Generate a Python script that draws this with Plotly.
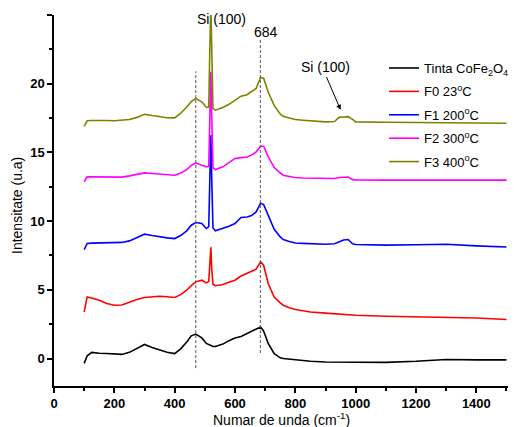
import plotly.graph_objects as go

# Raman shift (cm^-1) sample points
wavenumber = [100, 110, 125, 150, 175, 200, 225, 250, 275, 300, 325, 350, 375, 400, 420,
              440, 455, 470, 490, 505, 513, 517, 520, 523, 527, 535, 560, 580, 600, 620,
              640, 655, 670, 685, 695, 710, 730, 750, 760, 780, 800, 825, 850, 900, 930,
              945, 960, 975, 990, 1000, 1100, 1200, 1300, 1400, 1500]

tinta = [-0.35, 0.2, 0.45, 0.38, 0.37, 0.36, 0.3, 0.45, 0.75, 1.02, 0.8, 0.6, 0.45, 0.36, 0.7,
         1.2, 1.65, 1.78, 1.5, 1.1, 1.0, 0.95, 0.92, 0.9, 0.88, 0.88, 1.05, 1.3, 1.5, 1.6,
         1.8, 1.95, 2.1, 2.3, 2.0, 1.1, 0.35, 0.05, 0.0, -0.05, -0.12, -0.15, -0.2, -0.25, -0.25,
         -0.25, -0.25, -0.25, -0.27, -0.3, -0.28, -0.2, -0.07, -0.1, -0.1]

f0 = [3.4, 4.48, 4.4, 4.24, 4.0, 3.88, 3.9, 4.12, 4.3, 4.44, 4.5, 4.53, 4.5, 4.44, 4.65,
      4.97, 5.3, 5.58, 5.7, 5.5, 5.6, 7.0, 8.1, 6.5, 5.4, 5.3, 5.38, 5.55, 5.7, 6.0,
      6.19, 6.35, 6.5, 7.03, 6.79, 5.46, 4.48, 4.05, 3.88, 3.7, 3.57, 3.48, 3.39, 3.3, 3.25,
      3.22, 3.22, 3.2, 3.15, 3.15, 3.08, 3.05, 3.03, 2.95, 2.84]

f1 = [7.93, 8.37, 8.4, 8.41, 8.4, 8.41, 8.45, 8.56, 8.8, 9.05, 8.95, 8.85, 8.78, 8.73, 8.95,
      9.29, 9.7, 9.9, 9.82, 9.46, 9.6, 13.5, 16.25, 13.0, 9.5, 9.3, 9.46, 9.62, 9.82, 10.26,
      10.3, 10.4, 10.67, 11.3, 11.2, 10.4, 9.4, 8.85, 8.66, 8.52, 8.41, 8.38, 8.35, 8.32, 8.35,
      8.5, 8.62, 8.66, 8.35, 8.3, 8.25, 8.28, 8.32, 8.2, 8.12]

f2 = [12.85, 13.22, 13.22, 13.22, 13.2, 13.17, 13.2, 13.29, 13.4, 13.51, 13.47, 13.41, 13.36, 13.34, 13.5,
      13.75, 14.05, 14.24, 14.07, 13.95, 14.0, 18.0, 20.86, 17.5, 13.9, 13.75, 13.95, 14.25, 14.56, 14.62,
      14.67, 14.8, 15.04, 15.45, 15.45, 14.7, 13.9, 13.5, 13.34, 13.25, 13.17, 13.14, 13.12, 13.1, 13.1,
      13.17, 13.2, 13.2, 13.02, 13.0, 12.98, 12.98, 13.0, 12.98, 12.98]

f3 = [16.9, 17.3, 17.32, 17.34, 17.32, 17.3, 17.32, 17.39, 17.55, 17.78, 17.68, 17.58, 17.52, 17.51, 17.85,
      18.31, 18.7, 18.92, 18.68, 18.27, 18.3, 23.0, 25.5, 22.5, 18.2, 18.07, 18.27, 18.5, 18.8, 19.09,
      19.2, 19.4, 19.65, 20.45, 20.4, 19.4, 18.4, 17.8, 17.63, 17.5, 17.39, 17.34, 17.3, 17.22, 17.25,
      17.55, 17.58, 17.6, 17.4, 17.22, 17.2, 17.18, 17.18, 17.15, 17.12]

series_names = ["Tinta CoFe<sub>2</sub>O<sub>4</sub>", "F0 23<sup>o</sup>C", "F1 200<sup>o</sup>C",
                "F2 300<sup>o</sup>C", "F3 400<sup>o</sup>C"]
series_values = [tinta, f0, f1, f2, f3]
series_colors = ["#000000", "#FF0000", "#0000FF", "#FF00FF", "#808000"]

# Dashed reference lines (x, y-bottom, y-top)
ref_x = [470, 684]
ref_y0 = [-0.7, 0.4]
ref_y1 = [20.9, 23.2]

x_ticks = [0, 200, 400, 600, 800, 1000, 1200, 1400]
y_ticks = [0, 5, 10, 15, 20, 25]

FONT = "Liberation Sans, Arial, sans-serif"

fig = go.Figure()
for i, (name, vals, col) in enumerate(zip(series_names, series_values, series_colors)):
    fig.add_trace(go.Scatter(x=wavenumber, y=vals, mode="lines", name=name,
                             legendgroup="g%d" % i,
                             line=dict(color=col, width=1.6)))

for xv, y0, y1 in zip(ref_x, ref_y0, ref_y1):
    fig.add_shape(type="line", x0=xv, x1=xv, y0=y0, y1=y1, xref="x", yref="y",
                  line=dict(color="#555555", width=1, dash="3px,2px"))

fig.add_annotation(x=555, y=24.7, text="Si (100)", showarrow=False,
                   font=dict(family=FONT, size=14, color="black"))
fig.add_annotation(x=702, y=23.75, text="684", showarrow=False,
                   font=dict(family=FONT, size=14, color="black"))
fig.add_annotation(x=950, y=18.1, ax=901, ay=20.6, axref="x", ayref="y",
                   text="", showarrow=True, arrowhead=2, arrowsize=1, arrowwidth=1,
                   arrowcolor="black")
fig.add_annotation(x=901, y=21.2, text="Si (100)", showarrow=False,
                   font=dict(family=FONT, size=14, color="black"))

# Axis titles
fig.add_annotation(x=0.5, y=-0.088, xref="paper", yref="paper", showarrow=False,
                   text="Numar de unda (cm<sup>-1</sup>)", yanchor="middle",
                   font=dict(family=FONT, size=14, color="black"))
fig.add_annotation(x=-0.08, y=0.487, xref="paper", yref="paper", showarrow=False,
                   text="Intensitate (u.a)", textangle=-90, xanchor="center",
                   font=dict(family=FONT, size=14, color="black"))

axis_common = dict(showline=True, linecolor="black", linewidth=1.5, ticks="outside",
                   ticklen=5, tickwidth=1.5, tickcolor="black", showgrid=False,
                   zeroline=False, mirror=False, automargin=False,
                   tickfont=dict(family=FONT, size=13, color="black"))

fig.update_xaxes(range=[0, 1505], tickvals=x_ticks,
                 ticktext=["<b>%d</b>" % v for v in x_ticks],
                 minor=dict(ticks="outside", ticklen=3, dtick=100, tick0=0, tickcolor="black"),
                 **axis_common)
fig.update_yaxes(range=[-2, 25], tickvals=y_ticks,
                 ticktext=["<b>%d</b>" % v for v in y_ticks],
                 minor=dict(ticks="outside", ticklen=3, dtick=2.5, tick0=0, tickcolor="black"),
                 **axis_common)

fig.update_layout(width=511, height=419, margin=dict(l=46, r=5, t=7, b=41),
                  plot_bgcolor="white", paper_bgcolor="white",
                  legend=dict(x=0.727, y=0.8975, xanchor="left", yanchor="top",
                              bgcolor="rgba(0,0,0,0)", traceorder="grouped",
                              tracegroupgap=3.5,
                              font=dict(family=FONT, size=13, color="black")),
                  showlegend=True)

fig.write_html("out.html")
